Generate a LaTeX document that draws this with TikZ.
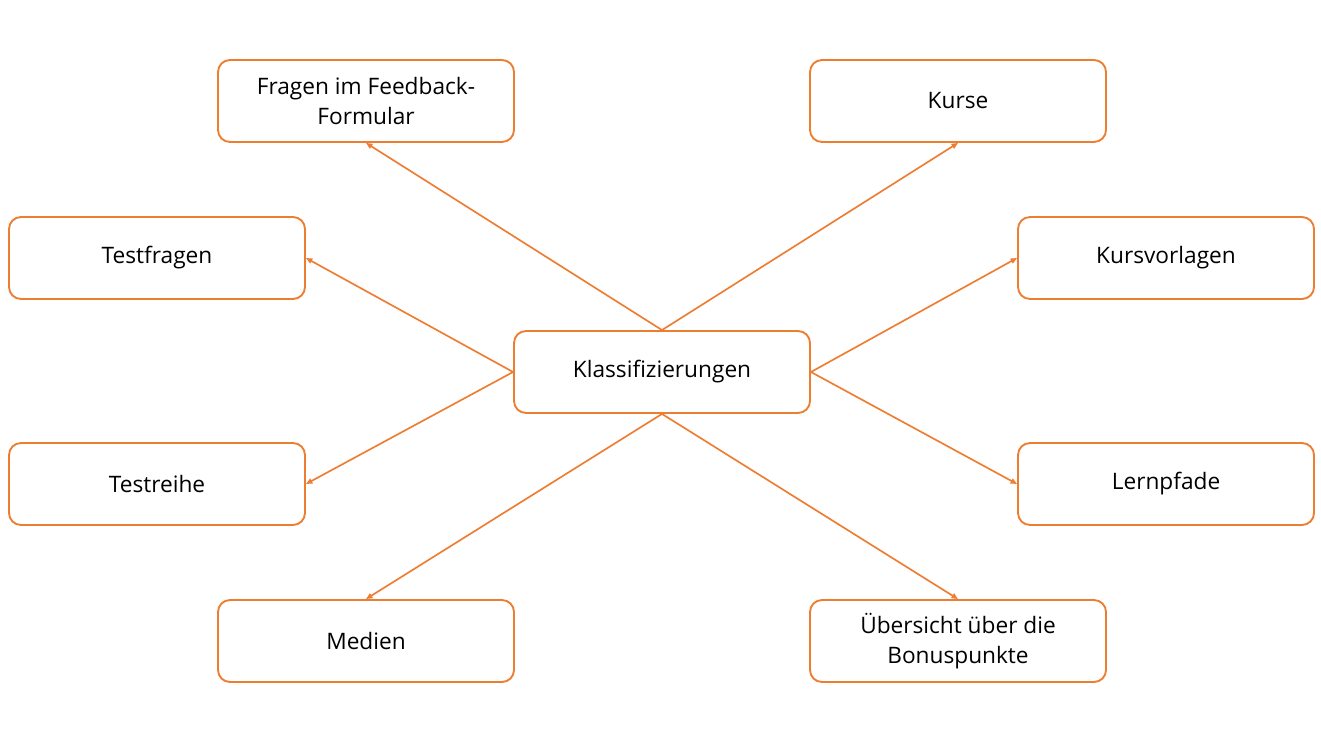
\documentclass[tikz,border=0pt]{standalone}
\usepackage{fontspec}
\setmainfont{Open Sans}
\usetikzlibrary{arrows.meta}
\definecolor{figO}{RGB}{237,125,49}

\begin{document}
\begin{tikzpicture}[x=0.75pt,y=-0.75pt,>={Triangle[length=1.7mm,width=1.4mm]},
  box/.style={draw=figO,line width=1.4pt,rounded corners=9pt,fill=white,minimum width=222pt,minimum height=61.5pt,inner sep=0pt,align=center,font=\fontsize{17}{22.5}\selectfont},
  link/.style={->,figO,line width=1.25pt}]
\useasboundingbox (0,0) rectangle (1321,745);
% centre and the eight boxes round it
\node[box] (klass) at (662,372) {Klassifizierungen};
\node[box] (feedback) at (366,101) {Fragen im Feedback-\\Formular};
\node[box] (kurse) at (958,101) {Kurse};
\node[box] (testfragen) at (157,258) {Testfragen};
\node[box] (vorlagen) at (1166,258) {Kursvorlagen};
\node[box] (testreihe) at (157,484) {Testreihe};
\node[box] (lernpfade) at (1166,484) {Lernpfade};
\node[box] (medien) at (366,641) {Medien};
\node[box] (bonus) at (958,641) {Übersicht über die\\Bonuspunkte};
\draw[link] (klass.north) -- (feedback.south);
\draw[link] (klass.north) -- (kurse.south);
\draw[link] (klass.west) -- (testfragen.east);
\draw[link] (klass.west) -- (testreihe.east);
\draw[link] (klass.east) -- (vorlagen.west);
\draw[link] (klass.east) -- (lernpfade.west);
\draw[link] (klass.south) -- (medien.north);
\draw[link] (klass.south) -- (bonus.north);
\end{tikzpicture}
\end{document}
